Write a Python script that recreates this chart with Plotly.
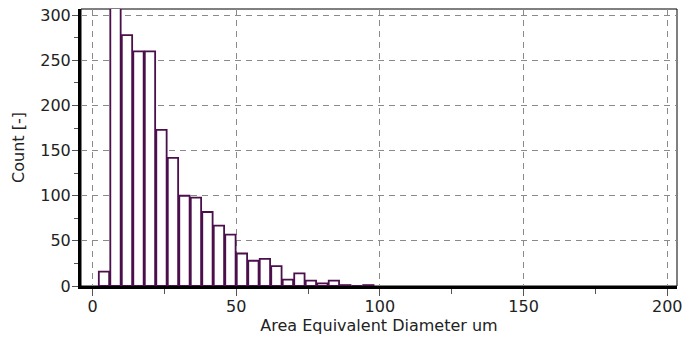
import plotly.graph_objects as go

bin_centers = [4, 8, 12, 16, 20, 24, 28, 32, 36, 40, 44, 48, 52, 56, 60, 64, 68, 72, 76, 80, 84, 88, 92, 96]
counts = [16, 330, 278, 260, 260, 173, 142, 100, 98, 82, 67, 57, 36, 28, 30, 22, 7, 14, 6, 3, 6, 1, 0, 1]
x_ticks = [0, 50, 100, 150, 200]
y_ticks = [0, 50, 100, 150, 200, 250, 300]

purple = "#4b0f4b"
font = dict(family="DejaVu Sans", size=16, color="#222222")

fig = go.Figure(go.Bar(
    x=bin_centers, y=counts, width=3.6,
    marker=dict(color="white", line=dict(color=purple, width=1.8)),
))

fig.update_layout(
    width=682, height=342,
    margin=dict(l=81, r=5, t=9, b=56, autoexpand=False),
    paper_bgcolor="white", plot_bgcolor="white",
    showlegend=False,
    font=font,
    shapes=[dict(type="rect", xref="paper", yref="paper", x0=0, x1=1, y0=0, y1=1,
                 line=dict(color="black", width=1), layer="below")],
)
fig.update_xaxes(
    range=[-4, 203.4], tickvals=x_ticks, ticktext=[str(v) for v in x_ticks],
    automargin=False, ticklabeloverflow="allow",
    showgrid=True, gridcolor="#8a8a8a", gridwidth=1, griddash="6px,5px",
    showline=True, linecolor="black", linewidth=3,
    ticks="outside", ticklen=7, tickcolor="#555555", ticklabelstandoff=-3,
    minor=dict(tickvals=[25, 75, 125, 175], ticks="outside", ticklen=5, tickcolor="#555555", showgrid=False),
    zeroline=False,
    title=dict(text="Area Equivalent Diameter um", font=font, standoff=2),
)
fig.update_yaxes(
    range=[0, 307], tickvals=y_ticks, ticktext=[str(v) for v in y_ticks],
    automargin=False, ticklabeloverflow="allow",
    showgrid=True, gridcolor="#8a8a8a", gridwidth=1, griddash="6px,5px",
    showline=True, linecolor="black", linewidth=3,
    ticks="outside", ticklen=6, tickcolor="#555555", ticklabelstandoff=-2,
    minor=dict(tickvals=[25, 75, 125, 175, 225, 275], ticks="outside", ticklen=4, tickcolor="#555555", showgrid=False),
    zeroline=False,
    title=dict(text="Count [-]", font=font, standoff=12),
)

fig.write_html("out.html",
               config={"displayModeBar": False},
               post_script="document.body.style.margin='0';document.body.style.overflow='hidden';")
